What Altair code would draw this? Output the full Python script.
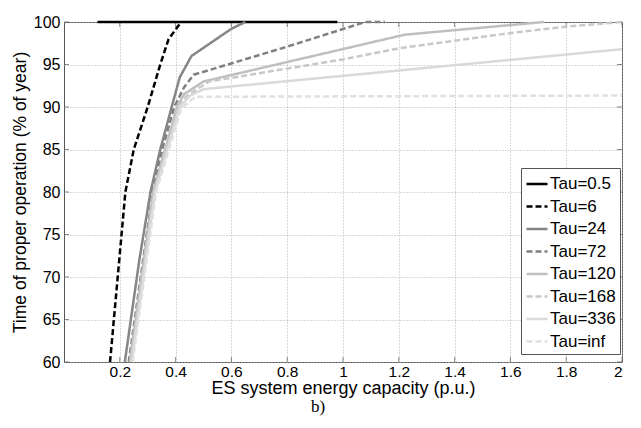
import altair as alt
import pandas as pd

# ---- data ----
series_names = ["Tau=0.5", "Tau=6", "Tau=24", "Tau=72", "Tau=120", "Tau=168", "Tau=336", "Tau=inf"]

tau_05_x = [0.12, 0.98]
tau_05_y = [100, 100]

tau_6_x = [0.165, 0.22, 0.25, 0.30, 0.345, 0.375, 0.42]
tau_6_y = [60, 80, 85, 90, 95, 98, 100]

tau_24_x = [0.218, 0.27, 0.31, 0.345, 0.386, 0.415, 0.457, 0.6, 0.65]
tau_24_y = [60, 72, 80, 85, 90, 93.5, 96, 99.2, 100]

tau_72_x = [0.232, 0.275, 0.318, 0.352, 0.395, 0.43, 0.465, 0.8, 1.08, 1.15]
tau_72_y = [60, 70, 80, 85, 90, 92.3, 93.8, 97.1, 100, 100]

tau_120_x = [0.236, 0.32, 0.405, 0.43, 0.5, 1.22, 1.72]
tau_120_y = [60, 80, 90, 91.5, 93.0, 98.5, 100]

tau_168_x = [0.24, 0.323, 0.41, 0.44, 0.52, 1.0, 1.2, 1.6, 1.8, 2.0]
tau_168_y = [60, 80, 90, 91.3, 93.0, 95.6, 96.9, 98.7, 99.45, 100]

tau_336_x = [0.243, 0.326, 0.415, 0.45, 0.5, 2.0]
tau_336_y = [60, 80, 90, 91.3, 92.1, 96.8]

tau_inf_x = [0.246, 0.33, 0.42, 0.47, 2.0]
tau_inf_y = [60, 80, 89.8, 91.2, 91.35]

x_ticks = [0.2, 0.4, 0.6, 0.8, 1.0, 1.2, 1.4, 1.6, 1.8, 2.0]
y_ticks = [60, 65, 70, 75, 80, 85, 90, 95, 100]

colors = ["#000000", "#000000", "#868686", "#808080", "#bfbfbf", "#c8c8c8", "#d9d9d9", "#e0e0e0"]
dashes = [[1, 0], [6, 3], [1, 0], [6, 3], [1, 0], [6, 3], [1, 0], [6, 3]]

x_title = "ES system energy capacity (p.u.)"
y_title = "Time of proper operation (% of year)"
sub_label = ["b)"]

# ---- build table ----
all_x = [tau_05_x, tau_6_x, tau_24_x, tau_72_x, tau_120_x, tau_168_x, tau_336_x, tau_inf_x]
all_y = [tau_05_y, tau_6_y, tau_24_y, tau_72_y, tau_120_y, tau_168_y, tau_336_y, tau_inf_y]
rows = []
for name, xs, ys in zip(series_names, all_x, all_y):
    for xv, yv in zip(xs, ys):
        rows.append({"x": xv, "y": yv, "tau": name})
df = pd.DataFrame(rows)

W, H = 558, 340
FONT = "Liberation Sans"

xscale = alt.Scale(domain=[0, 2], nice=False, zero=False)
yscale = alt.Scale(domain=[60, 100], nice=False, zero=False)

legend = alt.Legend(
    orient="none", legendX=457, legendY=146,
    symbolType="stroke", symbolSize=441, symbolStrokeWidth=2.5,
    labelFontSize=17, labelFont=FONT, labelColor="black",
    strokeColor="#555", fillColor="white", padding=4,
    rowPadding=2.5, labelOffset=1, symbolOffset=0,
)

lines = alt.Chart(df).mark_line(strokeWidth=2.5).encode(
    x=alt.X("x:Q", scale=xscale,
            axis=alt.Axis(values=x_ticks, format=".1~f", title=x_title,
                          grid=True, gridDash=[1, 2], gridColor="#b0b0b0",
                          domain=False, ticks=False, labelPadding=2,
                          labelFontSize=15.5, titleFontSize=18, titlePadding=0)),
    y=alt.Y("y:Q", scale=yscale,
            axis=alt.Axis(values=y_ticks, title=y_title,
                          grid=True, gridDash=[1, 2], gridColor="#b0b0b0",
                          domain=False, ticks=False, labelPadding=4,
                          labelFontSize=16, titleFontSize=17.5, titlePadding=4)),
    color=alt.Color("tau:N", scale=alt.Scale(domain=series_names, range=colors),
                    sort=series_names, legend=legend, title=None),
    strokeDash=alt.StrokeDash("tau:N", scale=alt.Scale(domain=series_names, range=dashes),
                              sort=series_names, legend=legend, title=None),
)

xt = pd.DataFrame({"x": x_ticks})
yt = pd.DataFrame({"y": y_ticks})
tick_col = "#555"
bt = alt.Chart(xt).mark_tick(color=tick_col, thickness=1, size=5, orient="vertical").encode(
    x=alt.X("x:Q", scale=xscale), y=alt.value(H - 2.5))
tt = alt.Chart(xt).mark_tick(color=tick_col, thickness=1, size=5, orient="vertical").encode(
    x=alt.X("x:Q", scale=xscale), y=alt.value(2.5))
lt = alt.Chart(yt).mark_tick(color=tick_col, thickness=1, size=5, orient="horizontal").encode(
    y=alt.Y("y:Q", scale=yscale), x=alt.value(2.5))
rt = alt.Chart(yt).mark_tick(color=tick_col, thickness=1, size=5, orient="horizontal").encode(
    y=alt.Y("y:Q", scale=yscale), x=alt.value(W - 2.5))

sub = alt.Chart(pd.DataFrame({"t": sub_label})).mark_text(
    font="Liberation Serif", fontSize=17, color="black", baseline="middle", align="center"
).encode(x=alt.value(254), y=alt.value(385), text="t:N")

chart = alt.layer(bt, tt, lt, rt, lines, sub).properties(
    width=W, height=H,
    autosize=alt.AutoSizeParams(type="none"),
    padding={"left": 56, "top": 14, "right": 11, "bottom": 64},
).configure_view(stroke="#555", strokeWidth=1).configure_axis(
    labelFont=FONT, titleFont=FONT, labelColor="black", titleColor="black",
    titleFontWeight="normal",
)

chart.save("out.html", embed_options={"renderer": "svg", "actions": False})
